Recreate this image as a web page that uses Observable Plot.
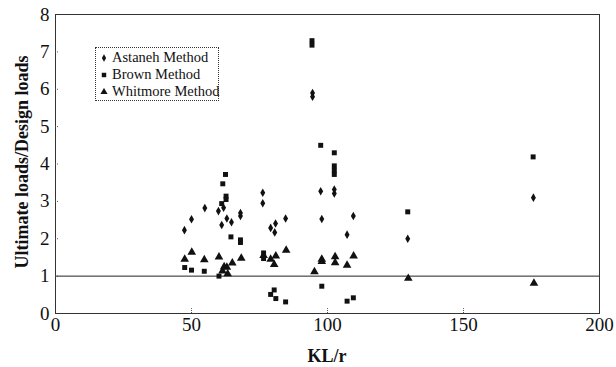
<!DOCTYPE html>
<html><head><meta charset="utf-8">
<script src="https://cdn.jsdelivr.net/npm/d3@7"></script>
<script src="https://cdn.jsdelivr.net/npm/@observablehq/plot@0.6"></script>
<style>
body{margin:0;background:#fff}
#chart{position:relative;width:616px;height:367px;overflow:hidden}
#chart > svg{position:absolute;left:0;top:0}
#chart svg text, #chart svg g{font-family:"Liberation Serif","Times New Roman",serif !important}
.ytitle{position:absolute;left:22px;top:162px;transform:translate(-50%,-50%) rotate(-90deg);white-space:nowrap;font:bold 18px "Liberation Serif",serif;color:#111}
.xtitle{position:absolute;left:327px;top:356px;transform:translate(-50%,-50%);white-space:nowrap;font:bold 18px "Liberation Serif",serif;color:#111}
.legend{position:absolute;left:95px;top:47px;width:124px;height:54px;border:1px dotted #333;box-sizing:border-box;font-family:"Liberation Serif",serif;font-size:14.5px;color:#111;padding:1px 0 0 4px;background:#fff}
.legend div{height:17px;line-height:17px;white-space:nowrap;font-family:"Liberation Serif",serif}
.legend svg{position:static;vertical-align:middle;margin-right:4px;margin-top:-2px}
</style>
</head><body>
<div id="chart"></div>
<script>
const astanehX = [47.4,50,54.9,59.9,61.8,61.1,63,64.7,68,68,76.2,76.2,79.1,80.6,80.9,84.6,94.5,94.5,97.5,97.9,102.5,102.5,107.2,109.5,129.5,175.7];
const astanehY = [2.23,2.52,2.82,2.74,2.83,2.37,2.54,2.44,2.69,2.61,3.23,2.95,2.29,2.17,2.41,2.54,5.9,5.8,3.27,2.53,3.32,3.21,2.11,2.61,2.0,3.1];
const brownX = [47.5,50,54.7,60.1,61.1,61.5,62.5,62.7,62.7,64.5,68,68,76.5,76.5,79.1,80.4,81,84.6,94.3,94.3,97.5,97.9,102.5,102.5,102.5,102.5,107.2,109.5,129.5,175.6];
const brownY = [1.23,1.16,1.13,1.0,2.94,3.47,3.72,3.14,3.05,2.05,1.97,1.9,1.62,1.47,0.51,0.63,0.4,0.31,7.3,7.18,4.5,0.73,4.3,3.95,3.83,3.72,0.33,0.42,2.72,4.19];
const whitmoreX = [47.5,50.1,54.7,60.1,61.4,62,63,63.3,65,68.3,76.5,79.1,80.4,81,84.8,95.2,97.9,97.9,102.8,102.8,107.2,109.6,129.7,175.9];
const whitmoreY = [1.45,1.64,1.44,1.51,1.14,1.25,1.24,1.06,1.35,1.48,1.55,1.45,1.31,1.54,1.69,1.12,1.45,1.39,1.52,1.36,1.29,1.54,0.94,0.81];
const xTicks = [0,50,100,150,200];
const yTicks = [0,1,2,3,4,5,6,7,8];
const seriesNames = ["Astaneh Method","Brown Method","Whitmore Method"];
const seriesSymbols = ["diamond","square","triangle"];

const toRows = (xs, ys) => xs.map((x, i) => ({x, y: ys[i]}));
const astaneh = toRows(astanehX, astanehY);
const brown = toRows(brownX, brownY);
const whitmore = toRows(whitmoreX, whitmoreY);

const serif = "Liberation Serif, Times New Roman, serif";
const plot = Plot.plot({
  width: 616, height: 367,
  marginLeft: 55, marginRight: 17, marginTop: 14, marginBottom: 54,
  style: {fontSize: "18px", fontFamily: serif, color: "#111", background: "white"},
  x: {domain: [0, 200]},
  y: {domain: [0, 8]},
  marks: [
    Plot.frame({stroke: "#333", strokeWidth: 1}),
    Plot.ruleY([1], {stroke: "#222", strokeWidth: 1}),
    Plot.ruleX(xTicks.slice(1, -1), {x: d => d, y1: 0, y2: 0.13, stroke: "#555", strokeDasharray: "1,1"}),
    Plot.ruleY(yTicks.slice(1, -1), {y: d => d, x1: 0, x2: 1.4, stroke: "#555", strokeDasharray: "1,1"}),
    Plot.axisX({ticks: xTicks, tickSize: 0, tickPadding: 4, label: null, fontSize: 19, fontFamily: serif}),
    Plot.axisY({ticks: yTicks, tickSize: 0, tickPadding: 6, label: null, fontSize: 19, fontFamily: serif}),
    Plot.dot(astaneh, {x: "x", y: "y", symbol: seriesSymbols[0], fill: "#111", r: 2.6}),
    Plot.dot(brown, {x: "x", y: "y", symbol: seriesSymbols[1], fill: "#111", r: 2.8}),
    Plot.dot(whitmore, {x: "x", y: "y", symbol: seriesSymbols[2], fill: "#111", r: 3.2})
  ]
});
const chart = document.getElementById("chart");
chart.appendChild(plot);

const yt = document.createElement("div"); yt.className = "ytitle"; yt.textContent = "Ultimate loads/Design loads"; chart.appendChild(yt);
const xt = document.createElement("div"); xt.className = "xtitle"; xt.textContent = "KL/r"; chart.appendChild(xt);

const legend = document.createElement("div"); legend.className = "legend";
seriesNames.forEach((name, i) => {
  const row = document.createElement("div");
  const sym = d3.symbol(i === 0 ? d3.symbolDiamond : i === 1 ? d3.symbolSquare : d3.symbolTriangle, i === 0 ? 16 : i === 1 ? 20 : 22)();
  row.innerHTML = `<svg width="8" height="8" viewBox="-4 -4 8 8"><path d="${sym}" fill="#111"/></svg>${name}`;
  legend.appendChild(row);
});
chart.appendChild(legend);
</script>
</body></html>
